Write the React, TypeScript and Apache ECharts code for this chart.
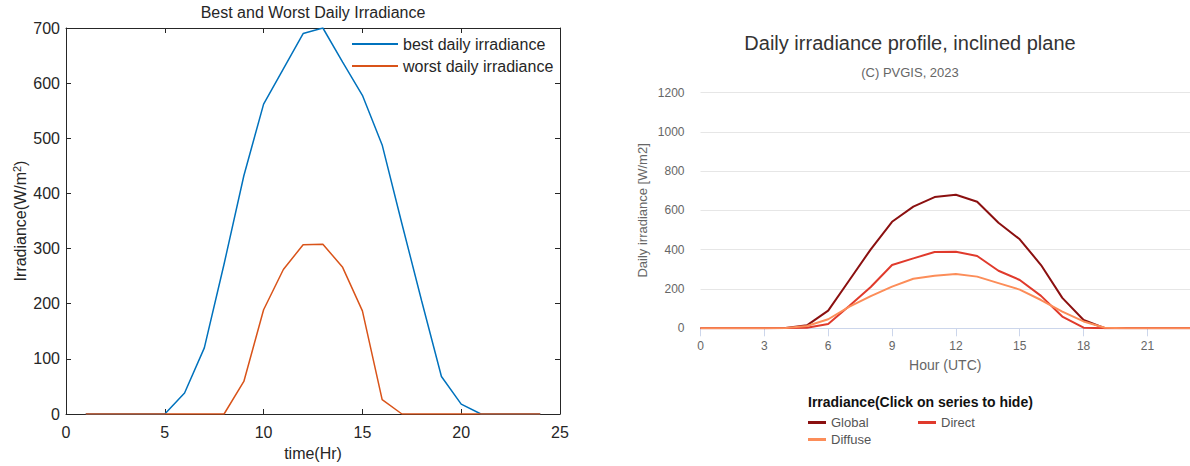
import React, { useEffect, useRef } from "react";
import * as echarts from "echarts";

const FONT = "'Liberation Sans', Arial, Helvetica, sans-serif";

// Left chart: Best and Worst Daily Irradiance
const leftHours = [1, 2, 3, 4, 5, 6, 7, 8, 9, 10, 11, 12, 13, 14, 15, 16, 17, 18, 19, 20, 21, 22, 23, 24];
const bestIrradiance = [0, 0, 0, 0, 0, 38, 120, 272, 432, 562, 626, 690, 700, 638, 578, 488, 345, 205, 68, 18, 0, 0, 0, 0];
const worstIrradiance = [0, 0, 0, 0, 0, 0, 0, 0, 59, 189, 262, 307, 308, 266, 187, 26, 0, 0, 0, 0, 0, 0, 0, 0];

// Right chart: PVGIS daily irradiance profile
const rightHours = [0, 1, 2, 3, 4, 5, 6, 7, 8, 9, 10, 11, 12, 13, 14, 15, 16, 17, 18, 19, 20, 21, 22, 23];
const globalIrr = [0, 0, 0, 0, 2, 15, 90, 246, 402, 542, 619, 668, 680, 644, 537, 453, 322, 155, 42, 0, 0, 0, 0, 0];
const directIrr = [0, 0, 0, 0, 1, 3, 22, 115, 210, 322, 356, 388, 390, 368, 293, 246, 165, 60, 3, 0, 0, 0, 0, 0];
const diffuseIrr = [0, 0, 0, 0, 2, 12, 46, 110, 164, 212, 252, 268, 276, 263, 230, 197, 144, 85, 35, 3, 0, 0, 0, 0];

const pairs = (xs: number[], ys: number[]) => xs.map((x, i) => [x, ys[i]]);

export default function App() {
  const ref = useRef<HTMLDivElement>(null);

  useEffect(() => {
    if (!ref.current) return;
    const chart = echarts.init(ref.current, undefined, { renderer: "svg" });
    const dark = "#262626";
    const gray = "#666666";
    const option: any = {
      animation: false,
      textStyle: { fontFamily: FONT },
      title: [
        {
          text: "Best and Worst Daily Irradiance",
          left: 313,
          top: 4,
          padding: 0,
          textAlign: "center",
          textVerticalAlign: "top",
          textStyle: { fontSize: 16, fontWeight: "normal", color: dark, fontFamily: FONT },
        },
        {
          text: "Daily irradiance profile, inclined plane",
          left: 910,
          top: 33,
          padding: 0,
          textAlign: "center",
          textVerticalAlign: "top",
          textStyle: { fontSize: 20, fontWeight: "normal", color: "#333333", fontFamily: FONT },
        },
        {
          text: "(C) PVGIS, 2023",
          left: 910,
          top: 66,
          padding: 0,
          textAlign: "center",
          textVerticalAlign: "top",
          textStyle: { fontSize: 13, fontWeight: "normal", color: gray, fontFamily: FONT },
        },
        {
          text: "Irradiance(Click on series to hide)",
          left: 808,
          top: 395,
          padding: 0,
          textAlign: "left",
          textVerticalAlign: "top",
          textStyle: { fontSize: 14, fontWeight: "bold", color: "#111111", fontFamily: FONT },
        },
      ],
      legend: [
        {
          data: ["best daily irradiance", "worst daily irradiance"],
          orient: "vertical",
          left: 352,
          top: 36,
          padding: 0,
          itemGap: 6,
          itemWidth: 46,
          itemHeight: 2,
          icon: "rect",
          textStyle: { fontSize: 16, color: dark, fontFamily: FONT },
        },
        {
          data: ["Global"],
          left: 808,
          top: 416,
          padding: 0,
          itemWidth: 18,
          itemHeight: 3,
          icon: "rect",
          textStyle: { fontSize: 13, color: "#555555", fontFamily: FONT },
        },
        {
          data: ["Direct"],
          left: 918,
          top: 416,
          padding: 0,
          itemWidth: 18,
          itemHeight: 3,
          icon: "rect",
          textStyle: { fontSize: 13, color: "#555555", fontFamily: FONT },
        },
        {
          data: ["Diffuse"],
          left: 808,
          top: 433,
          padding: 0,
          itemWidth: 18,
          itemHeight: 3,
          icon: "rect",
          textStyle: { fontSize: 13, color: "#555555", fontFamily: FONT },
        },
      ],
      grid: [
        { left: 66, right: 630, top: 28, bottom: 50, containLabel: false },
        { left: 700.5, right: 0, top: 92.5, bottom: 137.7, containLabel: false },
      ],
      xAxis: [
        {
          gridIndex: 0,
          type: "value",
          min: 0,
          max: 25,
          interval: 5,
          position: "bottom",
          axisLine: { show: true, lineStyle: { color: dark, width: 1 } },
          axisTick: { show: true, inside: true, length: 5, lineStyle: { color: dark } },
          axisLabel: { color: dark, fontSize: 16, margin: 10, fontFamily: FONT },
          splitLine: { show: false },
          name: "time(Hr)",
          nameLocation: "middle",
          nameGap: 31,
          nameTextStyle: { color: dark, fontSize: 16, fontFamily: FONT },
        },
        {
          gridIndex: 0,
          type: "value",
          min: 0,
          max: 25,
          interval: 5,
          position: "top",
          axisLine: { show: true, onZero: false, lineStyle: { color: dark, width: 1 } },
          axisTick: { show: true, inside: true, length: 5, lineStyle: { color: dark } },
          axisLabel: { show: false },
          splitLine: { show: false },
        },
        {
          gridIndex: 1,
          type: "value",
          min: 0,
          max: 23,
          interval: 3,
          position: "bottom",
          axisLine: { show: true, lineStyle: { color: "#ccd6eb", width: 1 } },
          axisTick: { show: true, length: 8, lineStyle: { color: "#ccd6eb" } },
          axisLabel: { color: gray, fontSize: 12, margin: 12, showMaxLabel: false, fontFamily: FONT },
          splitLine: { show: false },
          name: "Hour (UTC)",
          nameLocation: "middle",
          nameGap: 30,
          nameTextStyle: { color: gray, fontSize: 14, fontFamily: FONT },
        },
      ],
      yAxis: [
        {
          gridIndex: 0,
          type: "value",
          min: 0,
          max: 700,
          interval: 100,
          position: "left",
          axisLine: { show: true, onZero: false, lineStyle: { color: dark, width: 1 } },
          axisTick: { show: true, inside: true, length: 5, lineStyle: { color: dark } },
          axisLabel: { color: dark, fontSize: 16, margin: 6, fontFamily: FONT },
          splitLine: { show: false },
          name: "Irradiance(W/m{sup|2})",
          nameLocation: "middle",
          nameGap: 36,
          nameTextStyle: {
            color: dark,
            fontSize: 16,
            fontFamily: FONT,
            rich: {
              sup: { fontSize: 11, color: dark, verticalAlign: "top", padding: [0, 0, 8, 0], fontFamily: FONT },
            },
          },
        },
        {
          gridIndex: 0,
          type: "value",
          min: 0,
          max: 700,
          interval: 100,
          position: "right",
          axisLine: { show: true, onZero: false, lineStyle: { color: dark, width: 1 } },
          axisTick: { show: true, inside: true, length: 5, lineStyle: { color: dark } },
          axisLabel: { show: false },
          splitLine: { show: false },
        },
        {
          gridIndex: 1,
          type: "value",
          min: 0,
          max: 1200,
          interval: 200,
          position: "left",
          axisLine: { show: false },
          axisTick: { show: false },
          axisLabel: {
            color: gray,
            fontSize: 12,
            margin: 16,
            fontFamily: FONT,
            formatter: (v: number) => String(v),
          },
          splitLine: { show: true, lineStyle: { color: "#e6e6e6", width: 1 } },
          name: "Daily irradiance [W/m2]",
          nameLocation: "middle",
          nameGap: 52,
          nameTextStyle: { color: gray, fontSize: 13, fontFamily: FONT },
        },
      ],
      series: [
        {
          name: "best daily irradiance",
          type: "line",
          xAxisIndex: 0,
          yAxisIndex: 0,
          data: pairs(leftHours, bestIrradiance),
          showSymbol: false,
          color: "#0072BD",
          lineStyle: { width: 1.5, color: "#0072BD" },
        },
        {
          name: "worst daily irradiance",
          type: "line",
          xAxisIndex: 0,
          yAxisIndex: 0,
          data: pairs(leftHours, worstIrradiance),
          showSymbol: false,
          color: "#D95319",
          lineStyle: { width: 1.5, color: "#D95319" },
        },
        {
          name: "Global",
          type: "line",
          xAxisIndex: 2,
          yAxisIndex: 2,
          data: pairs(rightHours, globalIrr),
          showSymbol: false,
          color: "#8b1010",
          lineStyle: { width: 2, color: "#8b1010" },
        },
        {
          name: "Direct",
          type: "line",
          xAxisIndex: 2,
          yAxisIndex: 2,
          data: pairs(rightHours, directIrr),
          showSymbol: false,
          color: "#e03a2c",
          lineStyle: { width: 2, color: "#e03a2c" },
        },
        {
          name: "Diffuse",
          type: "line",
          xAxisIndex: 2,
          yAxisIndex: 2,
          data: pairs(rightHours, diffuseIrr),
          showSymbol: false,
          color: "#fc8d59",
          lineStyle: { width: 2, color: "#fc8d59" },
        },
      ],
    };
    chart.setOption(option);
    return () => chart.dispose();
  }, []);

  return (
    <div
      ref={ref}
      style={{ position: "fixed", left: 0, top: 0, width: 1190, height: 466, background: "#ffffff" }}
    />
  );
}
